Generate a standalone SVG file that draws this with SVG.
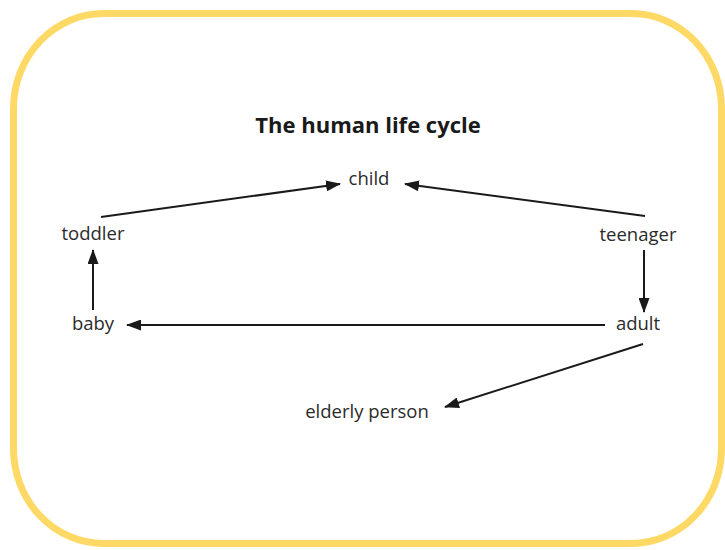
<svg xmlns="http://www.w3.org/2000/svg" width="725" height="550" viewBox="0 0 725 550">
<style>
.lbl{font-family:"Open Sans","Liberation Sans",sans-serif;font-size:18.5px;fill:#2b2b2b;text-anchor:middle}
.title{font-family:"Open Sans","Liberation Sans",sans-serif;font-size:22px;font-weight:bold;fill:#1a1a1a;text-anchor:middle}
.conn{stroke:#1a1a1a;stroke-width:2;fill:none;marker-end:url(#ah)}
</style>
<defs>
<marker id="ah" viewBox="0 0 15 11" refX="14" refY="5.5" markerWidth="15" markerHeight="11" markerUnits="userSpaceOnUse" orient="auto">
<path d="M0,0 L15,5.5 L0,11 Z" fill="#1a1a1a"/>
</marker>
</defs>
<rect width="725" height="550" fill="#fff"/>
<rect x="13.5" y="13.5" width="708" height="530" rx="90" ry="95" fill="#fff" stroke="#FFD966" stroke-width="7"/>
<text class="title" x="368" y="133">The human life cycle</text>
<g id="connectors">
<line class="conn" x1="101" y1="217" x2="340" y2="184"/>
<line class="conn" x1="645" y1="216" x2="405" y2="184"/>
<line class="conn" x1="644" y1="250" x2="644" y2="312"/>
<line class="conn" x1="605" y1="325" x2="127" y2="325"/>
<line class="conn" x1="93" y1="310" x2="93" y2="250"/>
<line class="conn" x1="643" y1="344" x2="445" y2="407"/>
</g>
<g id="child"><text class="lbl" x="369" y="185">child</text></g>
<g id="toddler"><text class="lbl" x="93" y="240">toddler</text></g>
<g id="teenager"><text class="lbl" x="638" y="241">teenager</text></g>
<g id="baby"><text class="lbl" x="93" y="330">baby</text></g>
<g id="adult"><text class="lbl" x="638" y="330">adult</text></g>
<g id="elderly"><text class="lbl" x="367" y="418">elderly person</text></g>
</svg>
